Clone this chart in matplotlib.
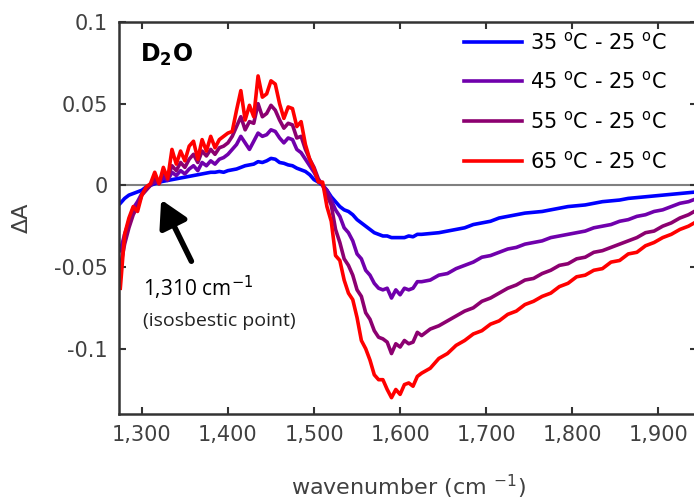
import numpy as np
import matplotlib
matplotlib.use("Agg")
import matplotlib.pyplot as plt

# wavenumber grid (cm^-1): 5 cm-1 steps through the bands, 10 cm-1 after
wn = np.concatenate([np.arange(1275, 1626, 5), np.arange(1635, 1946, 10)])

d35 = [-0.011, -0.008, -0.006, -0.005, -0.004, -0.003, -0.001, 0.000, 0.001, 0.002,
       0.0025, 0.003, 0.0035, 0.004, 0.0045, 0.005, 0.0055, 0.006, 0.0065, 0.007,
       0.0075, 0.008, 0.008, 0.0085, 0.008, 0.009, 0.0095, 0.010, 0.011, 0.012,
       0.0125, 0.013, 0.0145, 0.014, 0.015, 0.0165, 0.016, 0.014, 0.0135, 0.0125,
       0.012, 0.0105, 0.0095, 0.0085, 0.0065, 0.0035, 0.002, 0.000, -0.003, -0.007,
       -0.010, -0.013, -0.015, -0.016, -0.018, -0.021, -0.023, -0.025, -0.027, -0.029,
       -0.030, -0.031, -0.031, -0.032, -0.032, -0.032, -0.032, -0.031, -0.0315, -0.030,
       -0.030,
       -0.0295, -0.029, -0.028, -0.027, -0.026, -0.024, -0.023, -0.022, -0.020, -0.019,
       -0.018, -0.017, -0.0165, -0.016, -0.015, -0.014, -0.013, -0.0125, -0.012, -0.011,
       -0.010, -0.0095, -0.009, -0.008, -0.0075, -0.007, -0.0065, -0.006, -0.0055, -0.005,
       -0.0045, -0.004]

d45 = [-0.040, -0.030, -0.022, -0.014, -0.010, -0.005, -0.002, 0.000, 0.002, 0.001,
       0.005, 0.003, 0.008, 0.006, 0.009, 0.007, 0.010, 0.012, 0.009, 0.014,
       0.012, 0.015, 0.013, 0.016, 0.017, 0.019, 0.022, 0.025, 0.030, 0.026,
       0.022, 0.027, 0.032, 0.030, 0.031, 0.034, 0.033, 0.029, 0.026, 0.029,
       0.028, 0.022, 0.020, 0.016, 0.012, 0.008, 0.003, 0.000, -0.003, -0.009,
       -0.015, -0.019, -0.026, -0.029, -0.034, -0.042, -0.045, -0.052, -0.055, -0.060,
       -0.063, -0.064, -0.063, -0.069, -0.064, -0.067, -0.063, -0.064, -0.063, -0.059,
       -0.059,
       -0.058, -0.055, -0.054, -0.051, -0.049, -0.047, -0.044, -0.043, -0.041, -0.039,
       -0.038, -0.036, -0.035, -0.034, -0.032, -0.031, -0.030, -0.029, -0.028, -0.026,
       -0.025, -0.024, -0.022, -0.021, -0.019, -0.018, -0.016, -0.015, -0.013, -0.011,
       -0.010, -0.008]

d55 = [-0.050, -0.036, -0.026, -0.018, -0.013, -0.006, -0.003, 0.000, 0.004, 0.002,
       0.008, 0.005, 0.012, 0.009, 0.014, 0.011, 0.016, 0.019, 0.014, 0.021,
       0.018, 0.022, 0.019, 0.023, 0.024, 0.026, 0.030, 0.036, 0.042, 0.034,
       0.039, 0.038, 0.050, 0.042, 0.044, 0.049, 0.046, 0.040, 0.035, 0.038,
       0.037, 0.029, 0.030, 0.022, 0.016, 0.011, 0.004, 0.000, -0.006, -0.012,
       -0.027, -0.035, -0.045, -0.049, -0.055, -0.064, -0.068, -0.078, -0.082, -0.089,
       -0.093, -0.094, -0.096, -0.103, -0.097, -0.099, -0.095, -0.097, -0.096, -0.090,
       -0.092,
       -0.088, -0.086, -0.083, -0.080, -0.077, -0.075, -0.071, -0.069, -0.066, -0.063,
       -0.061, -0.058, -0.057, -0.054, -0.052, -0.049, -0.048, -0.045, -0.044, -0.041,
       -0.040, -0.038, -0.036, -0.034, -0.032, -0.029, -0.028, -0.025, -0.023, -0.020,
       -0.018, -0.015]

d65 = [-0.063, -0.030, -0.020, -0.013, -0.016, -0.006, -0.001, 0.001, 0.008, 0.001,
       0.011, 0.004, 0.022, 0.013, 0.021, 0.015, 0.024, 0.027, 0.016, 0.028,
       0.021, 0.030, 0.023, 0.028, 0.030, 0.032, 0.033, 0.046, 0.058, 0.040,
       0.049, 0.042, 0.067, 0.054, 0.056, 0.064, 0.062, 0.050, 0.041, 0.048,
       0.047, 0.036, 0.039, 0.025, 0.016, 0.010, 0.002, 0.002, -0.013, -0.022,
       -0.043, -0.046, -0.058, -0.066, -0.070, -0.081, -0.095, -0.100, -0.107, -0.116,
       -0.119, -0.119, -0.125, -0.130, -0.125, -0.128, -0.122, -0.121, -0.123, -0.117,
       -0.115,
       -0.112, -0.106, -0.103, -0.098, -0.095, -0.091, -0.089, -0.085, -0.083, -0.079,
       -0.077, -0.073, -0.071, -0.068, -0.066, -0.062, -0.060, -0.056, -0.055, -0.052,
       -0.051, -0.047, -0.046, -0.042, -0.041, -0.037, -0.035, -0.032, -0.030, -0.027,
       -0.025, -0.022]

labels = ["35 $^{\\mathrm{o}}$C - 25 $^{\\mathrm{o}}$C",
          "45 $^{\\mathrm{o}}$C - 25 $^{\\mathrm{o}}$C",
          "55 $^{\\mathrm{o}}$C - 25 $^{\\mathrm{o}}$C",
          "65 $^{\\mathrm{o}}$C - 25 $^{\\mathrm{o}}$C"]
colors = ["#0000ff", "#7000ac", "#8c0070", "#ff0000"]
xticks = [1300, 1400, 1500, 1600, 1700, 1800, 1900]
yticks = [-0.1, -0.05, 0, 0.05, 0.1]

plt.rcParams["mathtext.fontset"] = "dejavusans"
fig = plt.figure(figsize=(6.94, 5.04), dpi=100)
ax = fig.add_axes([0.1715, 0.1786, 0.833, 0.7777])

ax.axhline(0, color="#808080", lw=1.5, zorder=1)
for y, c, l in zip([d35, d45, d55, d65], colors, labels):
    ax.plot(wn, y, color=c, lw=2.6, label=l, zorder=2)

ax.set_xlim(1273.5, 1945)
ax.set_ylim(-0.14, 0.1)
ax.set_xticks(xticks)
ax.set_xticklabels([f"{t:,}" for t in xticks])
ax.set_yticks(yticks)
ax.set_yticklabels(["-0.1", "-0.05", "0", "0.05", "0.1"])
ax.tick_params(direction="in", length=5, width=1.5, labelsize=15, colors="#333333",
               labelcolor="#404040", top=True, right=True, pad=8)
for s in ax.spines.values():
    s.set_linewidth(1.8)
    s.set_color("#333333")

ax.set_xlabel("wavenumber (cm $^{-1}$)", fontsize=16, color="#404040", labelpad=20)
ax.set_ylabel("ΔA", fontsize=16, color="#404040", labelpad=16)

ax.text(1298, 0.080, "D$_\\mathbf{2}$O", fontsize=17, fontweight="bold", va="center")

ax.annotate("", xy=(1321, -0.0073), xytext=(1359, -0.048),
            arrowprops=dict(arrowstyle="-|>,head_width=0.45,head_length=0.8",
                            lw=4, color="black", mutation_scale=20))
ax.text(1301, -0.063, "1,310 cm$^{-1}$", fontsize=15, family="Open Sans", va="center")
ax.text(1301, -0.083, "(isosbestic point)", fontsize=14, family="Open Sans",
        va="center", color="#222222")

leg = ax.legend(loc="upper left", bbox_to_anchor=(464 / 694, 1 - 31 / 504),
                bbox_transform=fig.transFigure, frameon=False, fontsize=15,
                handlelength=2.8, handletextpad=0.35, labelspacing=0.85,
                borderpad=0, borderaxespad=0)
for line in leg.get_lines():
    line.set_linewidth(2.6)

fig.savefig("out.png", dpi=100)
